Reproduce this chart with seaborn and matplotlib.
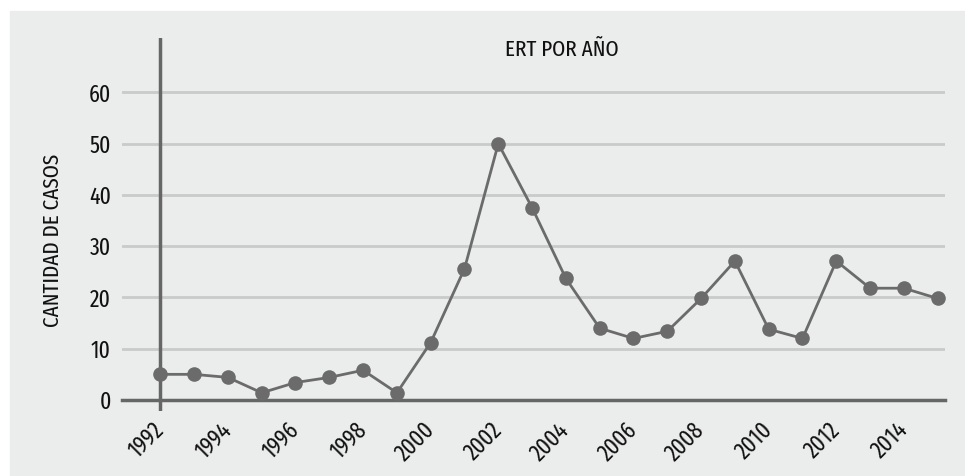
import matplotlib
matplotlib.use('Agg')
import matplotlib.pyplot as plt
import seaborn as sns
import pandas as pd
from matplotlib import font_manager
from matplotlib.patches import Rectangle

# datos
years = list(range(1992, 2016))
casos = [5, 5, 4.4, 1.4, 3.4, 4.4, 5.8, 1.4, 11.2, 25.6, 50, 37.5, 23.7, 14,
         12, 13.4, 19.8, 27.1, 13.8, 12, 27.1, 21.8, 21.8, 19.8]
y_ticks = [0, 10, 20, 30, 40, 50, 60]
title = 'ERT POR AÑO'
ylabel = 'CANTIDAD DE CASOS'

bg = '#ebecec'
line_col = '#6b6b6b'
axis_col = '#666666'
grid_col = '#c9caca'

sns.set_style('white')
installed = {f.name for f in font_manager.fontManager.ttflist}
prefs = ['Fira Sans Extra Condensed', 'Fira Sans Condensed', 'Roboto Condensed',
         'Barlow Condensed', 'DejaVu Sans']
font = [f for f in prefs if f in installed][0]
plt.rcParams['font.family'] = [font, 'DejaVu Sans']

df = pd.DataFrame({'Año': years, 'Casos': casos})

fig = plt.figure(figsize=(9.65, 4.76), dpi=100)
fig.patches.append(Rectangle((10 / 965, 0), 1, 1 - 11 / 476, transform=fig.transFigure,
                             color=bg, zorder=-10))
ax = fig.add_axes([122 / 965, 1 - 411 / 476, 823 / 965, 373 / 476])
ax.set_facecolor('none')

sns.lineplot(data=df, x='Año', y='Casos', marker='o', color=line_col, lw=2,
             markersize=10.5, markeredgewidth=0, ax=ax, zorder=5)

ax.set_xlim(1990.867, 2015.216)
ax.set_ylim(-2.15, 70.6)
ax.set_xlabel('')
ax.set_ylabel('')

ax.set_yticks(y_ticks)
ax.grid(axis='y', color=grid_col, lw=2)
ax.grid(axis='x', visible=False)
ax.set_axisbelow(True)

for s in ['left', 'right', 'top']:
    ax.spines[s].set_visible(False)
ax.spines['bottom'].set_position(('data', 0))
ax.spines['bottom'].set_color(axis_col)
ax.spines['bottom'].set_linewidth(2.5)
ax.axvline(years[0], color=axis_col, lw=2.5, zorder=2)

ax.set_xticks(years)
ax.set_xticklabels([str(y) if y % 2 == 0 else '' for y in years])
ax.tick_params(axis='x', direction='out', length=11, width=2, color=axis_col,
               pad=8, labelsize=17, labelcolor='#111111')
for lbl in ax.get_xticklabels():
    lbl.set_rotation(45)
    lbl.set_ha('right')
    lbl.set_va('center')
    lbl.set_rotation_mode('anchor')
ax.tick_params(axis='y', length=0, pad=8, labelsize=17, labelcolor='#111111')

fig.text(562 / 965, 1 - 50 / 476, title, ha='center', va='center', fontsize=16.5,
         color='#111111')
fig.text(53 / 965, 1 - 240 / 476, ylabel, rotation=90, ha='center', va='center',
         fontsize=16.5, color='#111111')

fig.savefig('out.png', dpi=100)
